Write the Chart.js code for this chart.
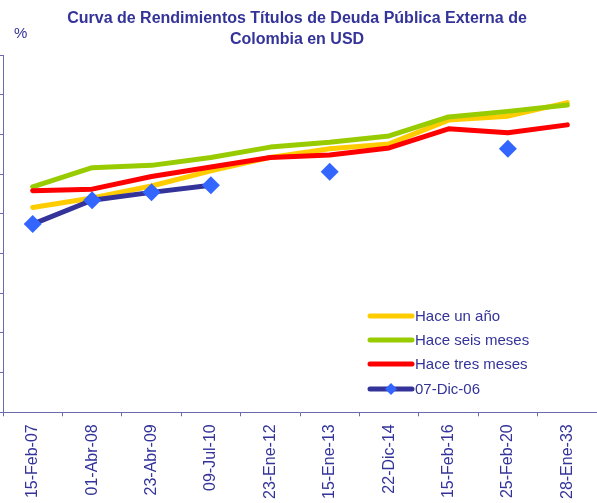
<!DOCTYPE html>
<html lang="es">
<head>
<meta charset="utf-8">
<title>Curva de Rendimientos Títulos de Deuda Pública Externa de Colombia en USD</title>
<script src="https://cdn.jsdelivr.net/npm/chart.js@4.4.1/dist/chart.umd.min.js"></script>
<style>
  html, body { margin: 0; padding: 0; background: #ffffff; }
  #wrap { width: 597px; height: 503px; position: relative; }
</style>
</head>
<body>
<div id="wrap"><canvas id="curveChart" width="597" height="503"></canvas></div>
<script>
// Datos (rendimiento %, escala estimada)
const fechas = ['15-Feb-07', '01-Abr-08', '23-Abr-09', '09-Jul-10', '23-Ene-12',
                '15-Ene-13', '22-Dic-14', '15-Feb-16', '25-Feb-20', '28-Ene-33'];
const haceUnAno = [6.58, 6.70, 6.85, 7.04, 7.21, 7.32, 7.38, 7.68, 7.73, 7.90];
const haceSeisMeses = [6.84, 7.08, 7.11, 7.21, 7.34, 7.40, 7.48, 7.72, 7.79, 7.87];
const haceTresMeses = [6.79, 6.81, 6.97, 7.09, 7.21, 7.24, 7.33, 7.57, 7.52, 7.62];
const dic0706 = [6.37, 6.67, 6.77, 6.86, null, 7.03, null, null, 7.32, null];
const yTicks = { min: 4, max: 8.5, step: 0.5 };

const NAVY = '#333399';
const AXIS = '#6a6aae';
const FONT = '"Liberation Sans", Arial, sans-serif';

// Títulos y leyenda dibujados a mano
const decorPlugin = {
  id: 'decor',
  afterDraw(chart) {
    const ctx = chart.ctx;
    ctx.save();
    ctx.fillStyle = NAVY;
    ctx.textAlign = 'center';
    ctx.textBaseline = 'alphabetic';
    ctx.font = 'bold 16px ' + FONT;
    ctx.fillText('Curva de Rendimientos Títulos de Deuda Pública Externa de', 297, 23);
    ctx.fillText('Colombia en USD', 297, 44);
    ctx.textAlign = 'left';
    ctx.font = '15px ' + FONT;
    ctx.fillText('%', 14, 38);

    // leyenda
    const rows = [316, 340, 364, 389];
    chart.data.datasets.forEach((ds, i) => {
      const y = rows[i];
      ctx.strokeStyle = ds.borderColor;
      ctx.lineWidth = 5;
      ctx.lineCap = 'round';
      ctx.beginPath();
      ctx.moveTo(370, y);
      ctx.lineTo(412, y);
      ctx.stroke();
      if (ds.pointRadius) {
        ctx.fillStyle = ds.pointBackgroundColor;
        ctx.beginPath();
        ctx.moveTo(391, y - 6);
        ctx.lineTo(397, y);
        ctx.lineTo(391, y + 6);
        ctx.lineTo(385, y);
        ctx.closePath();
        ctx.fill();
      }
      ctx.fillStyle = NAVY;
      ctx.font = '15px ' + FONT;
      ctx.textBaseline = 'middle';
      ctx.fillText(ds.label, 415, y + 1);
    });
    ctx.restore();
  }
};

function lineSet(label, data, color, order) {
  return {
    label: label,
    data: data,
    borderColor: color,
    backgroundColor: color,
    borderWidth: 5,
    pointRadius: 0,
    tension: 0,
    borderCapStyle: 'round',
    borderJoinStyle: 'round',
    order: order
  };
}

const blueSet = lineSet('07-Dic-06', dic0706, NAVY, 0);
blueSet.pointRadius = 9;
blueSet.pointStyle = 'rectRot';
blueSet.pointBackgroundColor = '#3366ff';
blueSet.pointBorderColor = '#3366ff';
blueSet.pointBorderWidth = 0;
blueSet.spanGaps = false;

new Chart(document.getElementById('curveChart'), {
  type: 'line',
  data: {
    labels: fechas,
    datasets: [
      lineSet('Hace un año', haceUnAno, '#ffcc00', 3),
      lineSet('Hace seis meses', haceSeisMeses, '#99cc00', 2),
      lineSet('Hace tres meses', haceTresMeses, '#ff0000', 1),
      blueSet
    ]
  },
  options: {
    responsive: false,
    animation: false,
    layout: { autoPadding: false, padding: { top: 55, left: 0, right: 0, bottom: -4 } },
    plugins: {
      legend: { display: false },
      title: { display: false },
      tooltip: { enabled: false }
    },
    scales: {
      x: {
        offset: true,
        grid: { offset: true, drawOnChartArea: false, tickLength: 4, color: AXIS },
        border: { color: AXIS, width: 1 },
        ticks: {
          color: NAVY,
          font: { family: FONT, size: 16 },
          minRotation: 90,
          maxRotation: 90,
          padding: 8,
          autoSkip: false
        },
        // sin margen extra a los lados por las etiquetas giradas
        afterFit(scale) {
          scale.paddingLeft = 0;
          scale.paddingRight = 0;
        }
      },
      y: {
        min: yTicks.min,
        max: yTicks.max,
        grid: { drawOnChartArea: false, tickLength: 3, color: AXIS },
        border: { color: AXIS, width: 1 },
        ticks: { display: false, stepSize: yTicks.step },
        afterFit(scale) {
          scale.width = 3;
        }
      }
    }
  },
  plugins: [decorPlugin]
});
</script>
</body>
</html>
